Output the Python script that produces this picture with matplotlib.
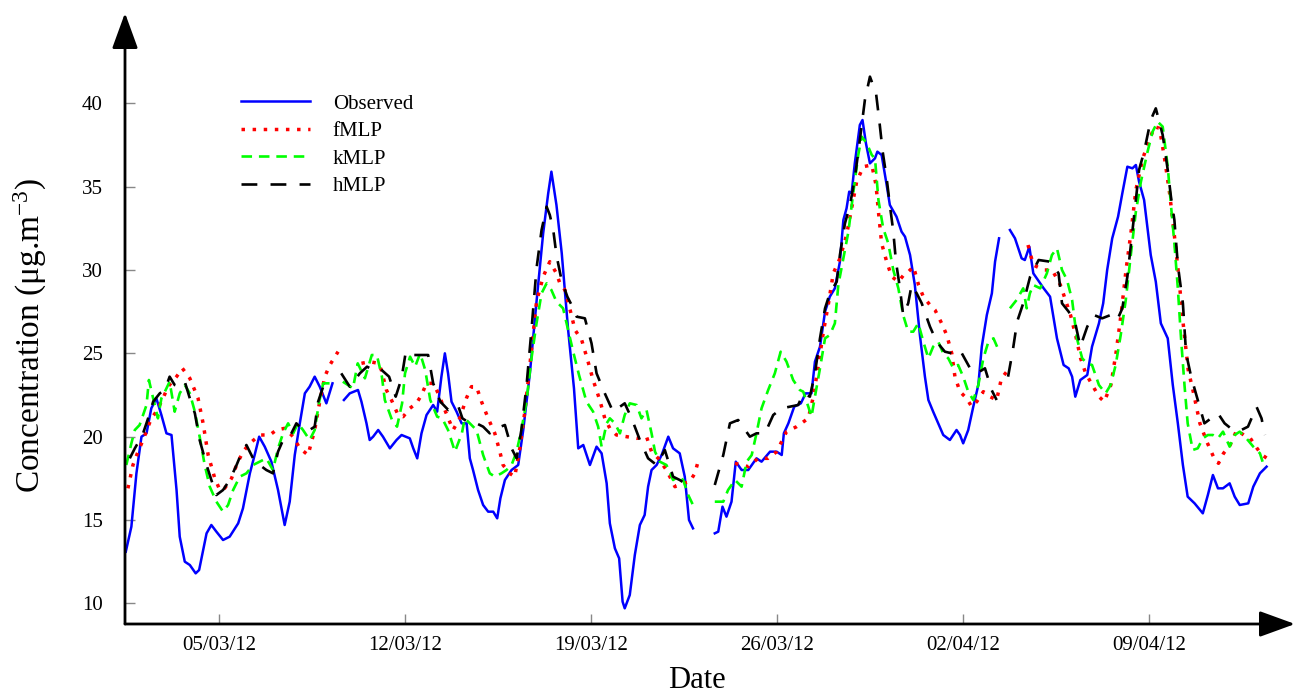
import numpy as np
import matplotlib
matplotlib.use('Agg')
import matplotlib.pyplot as plt
import matplotlib.dates as mdates

nan = np.nan
start_date = '2012-03-01'   # day 0 of the series below

# Observed concentration: days since start, value (nan = missing data)
obs_day = [0.49, 0.70, 0.89, 1.08, 1.27, 1.45, 1.64, 1.83, 2.02, 2.21, 2.40, 2.52, 2.71, 2.90,
           3.12, 3.25, 3.53, 3.71, 3.90, 4.15, 4.40, 4.72, 4.90, 5.16, 5.34, 5.51, 5.72, 5.97,
           6.22, 6.47, 6.66, 6.85, 7.04, 7.23, 7.41, 7.60, 7.79, 8.04, 8.27, 8.45, 8.70, 8.92,
           9.23, 9.36, 9.55, 9.67, 9.80, 9.99, 10.17, 10.43, 10.68, 10.87, 11.18, 11.31, 11.46,
           11.62, 11.81, 12.06, 12.21, 12.37, 12.50, 12.62, 12.75, 12.94, 13.13, 13.32, 13.44,
           13.56, 13.75, 13.94, 14.13, 14.32, 14.47, 14.59, 14.76, 15.01, 15.26, 15.45, 15.70,
           15.95, 16.20, 16.39, 16.51, 16.70, 16.90, 17.14, 17.36, 17.52, 17.71, 17.96, 18.21,
           18.40, 18.59, 18.71, 18.90, 19.06, 19.19, 19.27, 19.46, 19.65, 19.84, 20.02, 20.15,
           20.28, 20.47, 20.66, 20.91, 21.09, 21.34, 21.53, 21.69, 21.84, 22.20, 22.66, 22.79,
           22.95, 23.10, 23.29, 23.45, 23.67, 23.92, 24.23, 24.42, 24.74, 24.99, 25.18, 25.26,
           25.43, 25.65, 25.90, 26.08, 26.30, 26.43, 26.62, 26.81, 26.99, 27.18, 27.37, 27.50,
           27.62, 27.72, 27.81, 27.93, 28.12, 28.22, 28.35, 28.50, 28.69, 28.78, 28.94, 29.13,
           29.25, 29.50, 29.69, 29.82, 30.01, 30.19, 30.38, 30.57, 30.70, 30.88, 31.07, 31.26,
           31.51, 31.76, 31.89, 32.01, 32.20, 32.39, 32.58, 32.71, 32.90, 33.09, 33.21, 33.36,
           33.55, 33.77, 33.96, 34.21, 34.33, 34.50, 34.65, 34.78, 35.04, 35.28, 35.54, 35.79,
           35.98, 36.11, 36.23, 36.42, 36.68, 36.86, 37.12, 37.28, 37.43, 37.62, 37.84, 38.00,
           38.19, 38.38, 38.51, 38.63, 38.82, 39.07, 39.26, 39.45, 39.71, 39.90, 40.09, 40.28,
           40.46, 40.72, 41.03, 41.22, 41.41, 41.60, 41.79, 42.04, 42.23, 42.42, 42.74, 42.93,
           43.18, 43.43]
obs_val = [13.1, 14.6, 17.8, 20.0, 20.2, 21.7, 22.3, 21.3, 20.2, 20.1, 16.8, 14.0, 12.5, 12.3,
           11.8, 12.0, 14.2, 14.7, 14.3, 13.8, 14.0, 14.8, 15.7, 17.8, 18.9, 20.0, 19.4, 18.5,
           16.8, 14.7, 16.1, 18.9, 20.8, 22.6, 23.0, 23.6, 23.0, 22.0, 23.2, nan, 22.2, 22.6,
           22.8, 22.1, 20.8, 19.8, 20.0, 20.4, 20.0, 19.3, 19.8, 20.1, 19.9, 19.3, 18.7,
           20.2, 21.3, 21.9, 21.5, 23.6, 25.0, 23.8, 22.1, 21.5, 20.8, 20.8, 18.7,
           18.0, 16.8, 15.9, 15.5, 15.5, 15.1, 16.3, 17.4, 18.0, 18.3, 20.4, 23.8,
           28.1, 32.2, 34.6, 35.9, 33.9, 31.0, 26.4, 22.9, 19.3, 19.5, 18.3, 19.4,
           19.0, 17.2, 14.8, 13.3, 12.7, 10.1, 9.7, 10.5, 12.9, 14.7, 15.3, 17.0,
           18.0, 18.3, 18.9, 20.0, 19.3, 19.0, 17.6, 15.0, 14.5, nan, 14.2, 14.3,
           15.8, 15.2, 16.1, 18.5, 18.0, 18.0, 18.7, 18.5, 19.1, 19.1, 18.9, 20.2,
           20.8, 21.8, 22.0, 22.6, 22.6, 24.5, 25.4, 27.5, 28.4, 28.9, 30.5, 33.0,
           33.7, 34.7, 34.6, 36.4, 38.7, 39.0, 37.6, 36.4, 36.7, 37.1, 36.9, 35.1,
           33.9, 33.2, 32.3, 32.0, 30.9, 29.1, 26.1, 23.6, 22.2, 21.5, 20.8, 20.1,
           19.8, 20.4, 20.1, 19.6, 20.4, 21.8, 23.1, 25.4, 27.3, 28.6, 30.5, 31.9,
           nan, 32.4, 31.9, 30.7, 30.6, 31.4, 29.8, 29.5, 28.9, 28.4, 25.9, 24.3,
           24.1, 23.6, 22.4, 23.4, 23.7, 25.4, 26.8, 28.0, 30.0, 31.9, 33.2, 34.6,
           36.2, 36.1, 36.3, 35.3, 34.2, 30.9, 29.3, 26.8, 25.9, 23.1, 20.8, 18.3,
           16.4, 16.0, 15.4, 16.5, 17.7, 16.9, 16.9, 17.2, 16.4, 15.9, 16.0, 17.0,
           17.8, 18.2]

# fMLP forecast
fmlp_day = [0.57, 0.76, 0.95, 1.14, 1.45, 1.64, 1.89, 2.08, 2.40, 2.62, 2.90, 3.21, 3.40, 3.59,
            3.84, 4.03, 4.21, 4.47, 4.66, 4.90, 5.16, 5.53, 5.91, 6.16, 6.47, 6.79, 7.04, 7.35,
            7.60, 7.79, 7.98, 8.17, 8.48, 8.90, 9.36, 9.67, 9.99, 10.11, 10.30, 10.49, 10.74,
            10.93, 11.18, 11.43, 11.62, 11.81, 12.06, 12.25, 12.50, 12.81, 13.06, 13.31, 13.50,
            13.69, 13.88, 14.13, 14.38, 14.57, 14.69, 14.94, 15.13, 15.32, 15.51, 15.70, 15.95,
            16.20, 16.45, 16.70, 16.83, 17.02, 17.20, 17.40, 17.65, 17.89, 18.08, 18.33, 18.52,
            18.71, 18.96, 19.34, 19.72, 20.09, 20.28, 20.53, 20.84, 21.16, 21.47, 21.72, 21.91,
            22.03, 22.70, 23.42, 23.92, 24.29, 24.67, 24.99, 25.36, 25.74, 26.18, 26.37, 26.56,
            26.75, 26.94, 27.12, 27.37, 27.62, 27.81, 28.00, 28.25, 28.57, 28.73, 28.82, 28.94,
            29.13, 29.32, 29.57, 29.82, 29.95, 30.14, 30.33, 30.51, 30.76, 30.95, 31.20, 31.39,
            31.58, 31.70, 31.89, 32.14, 32.33, 32.52, 32.77, 33.02, 33.27, 33.45, 33.70, 33.90,
            34.45, 34.65, 35.04, 35.36, 35.67, 35.86, 36.05, 36.24, 36.43, 36.62, 36.87, 37.12,
            37.32, 37.57, 37.76, 37.95, 38.14, 38.33, 38.51, 38.77, 39.02, 39.21, 39.40, 39.59,
            39.78, 39.91, 40.10, 40.29, 40.48, 40.67, 40.92, 41.18, 41.43, 41.62, 41.81, 42.06,
            42.31, 42.57, 42.82, 43.07, 43.26, 43.45]
fmlp_val = [16.9, 18.3, 19.1, 19.8, 21.1, 21.5, 22.3, 23.0, 23.6, 24.1, 23.5, 22.3, 20.8, 18.9,
            17.5, 16.8, 16.9, 17.5, 18.3, 19.1, 19.6, 20.1, 20.1, 20.4, 20.5, 20.0, 19.3, 18.9,
            20.4, 22.1, 23.6, 24.3, 25.1, nan, 24.4, 24.5, 24.4, 24.0, 22.8, 22.2, 21.3,
            21.2, 21.7, 22.0, 22.5, 23.2, 23.2, 22.6, 21.6, 20.4, 21.1, 22.3, 23.0,
            23.0, 22.1, 21.1, 20.2, 19.1, 18.3, 17.8, 17.6, 19.3, 21.5, 24.3, 28.1,
            29.6, 30.5, 29.8, 29.2, 28.8, 27.7, 26.4, 25.8, 24.5, 23.4, 22.2, 21.1,
            20.5, 20.1, 20.0, 19.9, 20.0, 19.1, 18.7, 18.0, 17.0, 17.2, 17.3, 17.8,
            18.5, nan, 18.4, 18.2, 18.7, 18.7, 19.1, 20.3, 20.6, 21.1, 22.4, 24.3,
            26.3, 28.0, 29.8, 30.7, 32.1, 33.7, 35.3, 36.2, 36.3, 35.1, 33.5, 31.6,
            30.5, 29.6, 29.3, 29.8, 29.9, 30.2, 29.1, 28.4, 27.9, 27.6, 26.8, 26.1,
            25.0, 23.6, 22.7, 22.3, 21.8, 22.1, 22.7, 22.4, 22.2, 23.5, 24.0, nan,
            31.5, 30.3, 30.0, 30.0, 29.1, 28.2, 27.3, 26.1, 24.7, 23.8, 23.1, 22.4,
            22.1, 23.1, 25.0, 27.3, 30.0, 32.3, 34.8, 36.7, 37.8, 38.6, 38.5, 36.7,
            34.6, 32.8, 30.0, 26.8, 24.0, 22.7, 20.8, 19.7, 18.8, 18.4, 19.0, 19.5,
            20.4, 20.1, 19.9, 19.3, 18.9, 18.7]

# kMLP forecast
kmlp_day = [0.51, 0.70, 0.83, 1.01, 1.27, 1.36, 1.52, 1.70, 1.83, 1.99, 2.14, 2.33, 2.52, 2.71,
            2.90, 3.09, 3.27, 3.46, 3.65, 3.90, 4.15, 4.34, 4.53, 4.78, 5.03, 5.28, 5.53, 5.78,
            6.03, 6.22, 6.41, 6.60, 6.79, 6.97, 7.16, 7.41, 7.60, 7.77, 7.92, 8.17, 8.30, 8.45,
            8.66, 9.04, 9.22, 9.49, 9.75, 9.94, 10.13, 10.24, 10.51, 10.70, 10.89, 11.00, 11.19,
            11.38, 11.57, 11.76, 11.95, 12.21, 12.40, 12.62, 12.88, 13.14, 13.25, 13.44, 13.69,
            13.94, 14.19, 14.38, 14.63, 14.82, 15.01, 15.20, 15.38, 15.57, 15.76, 15.95, 16.14,
            16.33, 16.51, 16.70, 16.95, 17.14, 17.33, 17.55, 17.83, 18.08, 18.27, 18.40, 18.59,
            18.71, 18.90, 19.09, 19.27, 19.46, 19.72, 19.90, 20.09, 20.28, 20.41, 20.59, 20.84,
            21.09, 21.28, 21.47, 21.66, 21.84, 22.20, 22.66, 22.98, 23.16, 23.42, 23.67, 23.86,
            24.05, 24.23, 24.42, 24.67, 24.92, 25.14, 25.36, 25.61, 25.86, 25.99, 26.18, 26.30,
            26.43, 26.62, 26.81, 26.99, 27.18, 27.31, 27.50, 27.69, 27.87, 28.06, 28.19, 28.38,
            28.57, 28.69, 28.82, 29.00, 29.19, 29.38, 29.57, 29.75, 29.94, 30.13, 30.32, 30.51,
            30.70, 30.88, 31.07, 31.26, 31.45, 31.64, 31.82, 32.01, 32.20, 32.39, 32.58, 32.77,
            32.96, 33.15, 33.34, 33.55, 33.77, 34.02, 34.27, 34.40, 34.52, 34.65, 34.91, 35.16,
            35.35, 35.54, 35.73, 35.92, 36.11, 36.29, 36.49, 36.67, 36.86, 37.12, 37.37, 37.56,
            37.75, 37.94, 38.13, 38.32, 38.51, 38.70, 38.95, 39.14, 39.33, 39.52, 39.71, 39.83,
            39.96, 40.09, 40.21, 40.34, 40.46, 40.65, 40.84, 41.03, 41.22, 41.41, 41.60, 41.79,
            42.04, 42.23, 42.42, 42.67, 42.93, 43.18, 43.36]
kmlp_val = [18.3, 19.6, 20.4, 20.7, 21.9, 23.4, 22.3, 21.1, 22.3, 22.8, 23.3, 21.5, 22.6, 23.1,
            22.6, 21.5, 20.0, 18.3, 17.0, 16.1, 15.5, 15.9, 16.8, 17.6, 17.8, 18.3, 18.5, 18.7,
            18.0, 19.3, 20.2, 20.8, 20.2, 20.8, 20.4, 19.8, 20.4, 22.1, 23.2, 23.2, 23.3, nan,
            23.3, 22.9, 24.4, 23.5, 24.9, 24.9, 23.6, 22.2, 21.0, 20.6, 22.0, 23.8, 24.8,
            24.2, 25.0, 24.0, 22.2, 21.2, 21.1, 20.4, 19.1, 20.2, 21.1, 20.8, 20.4,
            18.9, 17.8, 17.6, 17.8, 18.0, 18.3, 19.1, 20.4, 22.1, 24.7, 26.8, 28.6,
            29.2, 28.8, 28.1, 27.7, 26.4, 25.1, 23.7, 22.1, 21.5, 20.6, 19.4, 20.8,
            21.1, 20.8, 20.2, 21.3, 22.0, 21.9, 21.1, 21.6, 20.2, 19.1, 18.5, 18.3,
            17.4, 17.6, 17.4, 16.5, 15.9, nan, 16.1, 16.1, 16.8, 17.4, 17.0, 18.5,
            18.9, 20.2, 21.7, 22.8, 23.8, 25.1, 24.5, 23.4, 22.8, 22.7, 21.8, 21.2,
            22.4, 24.1, 25.9, 26.1, 26.8, 29.1, 30.7, 32.3, 34.6, 36.9, 38.0, 37.6,
            36.9, 36.7, 34.2, 32.5, 31.6, 30.0, 28.9, 27.3, 26.3, 26.3, 26.8, 25.7,
            24.7, 25.4, 25.7, 25.0, 24.7, 24.1, 24.3, 23.6, 22.7, 22.2, 23.1, 24.7,
            25.7, 25.9, 25.2, nan, 27.7, 28.2, 28.9, 27.7, 28.6, 29.1, 28.9, 29.8,
            30.9, 31.3, 30.0, 29.4, 28.2, 25.9, 24.7, 24.4, 24.3, 23.1, 22.6, 23.1,
            24.3, 26.1, 28.2, 30.9, 33.5, 35.3, 37.1, 38.3, 38.9, 38.6, 36.2, 33.9,
            31.6, 28.9, 25.9, 23.1, 20.8, 19.2, 19.3, 19.9, 20.1, 20.1, 19.9, 20.3,
            19.4, 20.1, 20.3, 19.9, 19.4, 19.0, 18.1]

# hMLP forecast
hmlp_day = [0.64, 0.83, 1.01, 1.14, 1.33, 1.52, 1.77, 1.96, 2.14, 2.33, 2.52, 2.71, 2.90, 3.09,
            3.27, 3.53, 3.71, 3.90, 4.15, 4.40, 4.66, 4.84, 5.03, 5.28, 5.53, 5.78, 6.03, 6.22,
            6.41, 6.66, 6.91, 7.16, 7.41, 7.60, 7.73, 7.92, 8.08, 8.35, 8.60, 8.92, 9.30, 9.57,
            9.80, 10.05, 10.40, 10.65, 10.87, 11.03, 11.31, 11.56, 11.87, 12.06, 12.33, 12.63,
            12.99, 13.16, 13.44, 13.69, 13.94, 14.19, 14.44, 14.76, 15.01, 15.20, 15.38, 15.57,
            15.76, 15.95, 16.14, 16.33, 16.45, 16.58, 16.70, 16.89, 17.11, 17.27, 17.46, 17.77,
            18.02, 18.21, 18.52, 18.83, 19.27, 19.53, 19.84, 20.15, 20.47, 20.78, 21.09, 21.34,
            21.53, 22.10, 22.66, 22.98, 23.23, 23.54, 23.98, 24.23, 24.55, 24.86, 25.18, 25.49,
            25.80, 25.99, 26.24, 26.43, 26.62, 26.81, 26.99, 27.25, 27.37, 27.56, 27.75, 27.93,
            28.12, 28.31, 28.50, 28.73, 28.85, 28.98, 29.13, 29.25, 29.38, 29.48, 29.63, 29.75,
            29.94, 30.07, 30.26, 30.45, 30.76, 31.01, 31.32, 31.58, 31.89, 32.27, 32.52, 32.83,
            33.08, 33.27, 33.50, 33.70, 33.88, 34.04, 34.27, 34.53, 34.85, 35.28, 35.60, 35.73,
            35.98, 36.23, 36.42, 36.68, 36.93, 37.24, 37.56, 37.81, 38.00, 38.19, 38.38, 38.51,
            38.63, 38.82, 39.07, 39.26, 39.52, 39.71, 39.83, 39.96, 40.09, 40.28, 40.40, 40.59,
            40.84, 41.09, 41.34, 41.60, 41.85, 42.16, 42.48, 42.73, 43.05, 43.24, 43.37]
hmlp_val = [18.7, 19.3, 19.8, 20.2, 21.1, 22.1, 22.6, 22.8, 23.6, 23.1, 23.0, 23.3, 22.3, 21.4,
            19.8, 18.3, 17.4, 16.5, 16.8, 17.4, 18.3, 19.0, 19.5, 18.7, 18.3, 18.0, 17.8, 19.1,
            19.8, 20.0, 20.8, 20.4, 20.4, 20.6, 22.1, 23.0, 23.2, nan, 23.8, 23.0, 23.8, 24.2,
            24.0, 24.1, 23.6, 22.4, 23.5, 25.1, 24.9, 24.9, 24.9, 23.2, 22.1, 21.6,
            21.9, 21.1, 20.8, 20.8, 20.6, 20.2, 20.5, 20.7, 19.3, 18.7, 20.4, 23.0,
            26.4, 30.1, 32.4, 33.8, 33.3, 32.4, 30.9, 29.4, 28.4, 27.9, 27.2, 27.1,
            25.6, 23.8, 22.6, 21.5, 22.0, 21.1, 19.8, 18.7, 18.3, 19.2, 17.6, 17.4,
            17.2, nan, 17.1, 18.9, 20.8, 21.0, 20.0, 20.2, 20.2, 21.3, 21.7, 21.8,
            21.9, 22.6, 22.4, 23.8, 25.9, 27.7, 28.6, 29.3, 30.9, 32.8, 33.9, 35.5,
            37.8, 40.2, 41.6, 40.6, 39.0, 37.1, 35.5, 33.9, 32.3, 30.5, 28.9, 27.3,
            28.0, 29.1, 28.6, 28.0, 26.6, 25.7, 25.1, 25.0, 25.2, 24.1, 23.8, 24.1,
            22.8, 22.2, nan, 23.6, 25.2, 26.9, 28.0, 29.6, 30.6, 30.5, 29.8, 28.0,
            27.5, 26.8, 25.4, 26.6, 27.3, 27.1, 27.3, 27.0, 27.7, 29.6, 32.3, 34.2,
            36.0, 37.1, 39.0, 39.7, 38.1, 36.0, 34.4, 33.0, 30.3, 28.0, 25.0, 23.6,
            22.2, 20.8, 21.1, 21.4, 20.8, 20.4, 20.4, 20.6, 21.8, 21.1, 20.1]

tick_dates = ['2012-03-05', '2012-03-12', '2012-03-19', '2012-03-26', '2012-04-02', '2012-04-09']
yticks = [10, 15, 20, 25, 30, 35, 40]


def to_num(days):
    return mdates.datestr2num(start_date) + np.asarray(days)


plt.rcParams['font.family'] = ['Liberation Serif', 'DejaVu Serif']
plt.rcParams['mathtext.default'] = 'regular'

W, H = 1298, 695
fig = plt.figure(figsize=(W / 100, H / 100), dpi=100)
ax = fig.add_axes([125 / W, 1 - 624 / H, (1295 - 125) / W, (624 - 13) / H])

ax.plot(to_num(obs_day), obs_val, color='#0000ff', lw=1.8, label='Observed')
ax.plot(to_num(fmlp_day), fmlp_val, color='#ff0000', lw=2.5, ls=(0, (1, 2.2)), label='fMLP')
ax.plot(to_num(kmlp_day), kmlp_val, color='#00ff00', lw=1.9, ls=(0, (4, 2.6)), label='kMLP')
ax.plot(to_num(hmlp_day), hmlp_val, color='black', lw=1.9, ls=(0, (6, 5)), label='hMLP')

ax.set_xlim(to_num(0.46), to_num(44.5))
ax.set_ylim(8.76, 45.42)

for s in ax.spines.values():
    s.set_visible(False)

# axes drawn as arrows
arrow = dict(arrowstyle='-|>,head_length=1.1,head_width=0.4', lw=2, color='black',
             mutation_scale=20, shrinkA=0, shrinkB=0)
ax.annotate('', xy=(1, 0), xytext=(0, 0), xycoords='axes fraction', arrowprops=arrow)
ax.annotate('', xy=(0, 1), xytext=(0, 0), xycoords='axes fraction', arrowprops=arrow)

ax.set_xticks(mdates.datestr2num(tick_dates))
ax.xaxis.set_major_formatter(mdates.DateFormatter('%d/%m/%y'))
ax.set_yticks(yticks)
ax.tick_params(axis='both', direction='in', length=7, width=1, color='#888888',
               labelsize=15, labelcolor='black')
ax.tick_params(axis='x', pad=9)
ax.tick_params(axis='y', pad=16)

fig.text(30 / W, 1 - 336 / H, r'Concentration (μg.m$^{-3}$)', rotation=90,
         ha='center', va='center', fontsize=24)
fig.text(697 / W, 1 - 681 / H, 'Date', ha='center', va='center', fontsize=22)

ax.legend(loc='upper left', bbox_to_anchor=(241 / W, 1 - 94 / H),
          bbox_transform=fig.transFigure, frameon=False, fontsize=15,
          handlelength=3.3, handletextpad=1.1, labelspacing=0.38,
          borderpad=0, borderaxespad=0)

fig.savefig('out.png', dpi=100)
